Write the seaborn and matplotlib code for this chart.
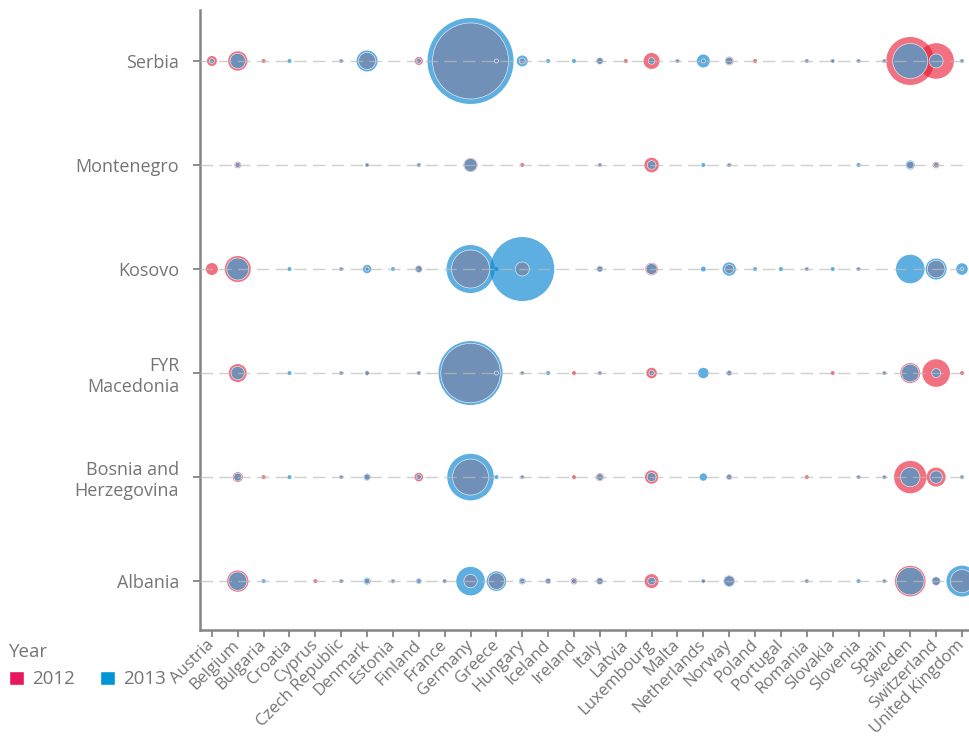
import numpy as np
import pandas as pd
import matplotlib
matplotlib.use("Agg")
import matplotlib.pyplot as plt
from matplotlib.patches import Patch
import seaborn as sns

# ---------------- data ----------------
destinations = ["Austria", "Belgium", "Bulgaria", "Croatia", "Cyprus", "Czech Republic",
                "Denmark", "Estonia", "Finland", "France", "Germany", "Greece", "Hungary",
                "Iceland", "Ireland", "Italy", "Latvia", "Luxembourg", "Malta", "Netherlands",
                "Norway", "Poland", "Portugal", "Romania", "Slovakia", "Slovenia", "Spain",
                "Sweden", "Switzerland", "United Kingdom"]
origins = ["Serbia", "Montenegro", "Kosovo", "FYR\nMacedonia", "Bosnia and\nHerzegovina", "Albania"]

#                 Aut  Bel Bul Cro Cyp Cze  Den Est Fin Fra   Ger  Gre  Hun Ice Ire Ita Lat  Lux Mal Net  Nor Pol Por Rom Slk Sln Spa   Swe   Swi  UK
serbia_2012     = [155, 583, 25,  0,  0, 25, 448,  0, 99, 25, 8953,  25,   56,  0,  0, 68, 25, 397, 25,  25, 115, 25,  0, 25, 25, 25, 25, 3571, 1964,  25]
serbia_2013     = [ 39, 368,  0, 25,  0, 25, 684,  0, 39, 25, 11464, 25,  188, 25, 25, 68,  0,  68, 25, 262,  85,  0,  0, 25, 25, 25, 25, 1899,  304,  25]
montenegro_2012 = [  0,  68,  0,  0,  0,  0,  25,  0, 25,  0,  304,   0,   25,  0,  0, 25,  0, 330,  0,   0,  25,  0,  0,  0,  0,  0,  0,   85,   68,   0]
montenegro_2013 = [  0,  39,  0,  0,  0,  0,  25,  0, 25,  0,  262,   0,    0,  0,  0, 25,  0, 115,  0,  25,  25,  0,  0,  0,  0, 25,  0,  126,   39,   0]
kosovo_2012     = [223,1048,  0,  0,  0, 25,  25,  0, 76,  0, 2238,   0,  304,  0,  0, 56,  0, 246,  0,   0, 126,  0,  0, 25,  0, 25,  0,    0,  480,  14]
kosovo_2013     = [  0, 750,  0, 25,  0, 25, 109, 25, 68,  0, 3571,  25, 6349,  0,  0, 56,  0, 188,  0,  39, 278, 25, 25, 25, 25, 25,  0, 1268,  684, 209]
macedonia_2012  = [  0, 502,  0,  0,  0, 25,  30,  0, 25,  0, 5469,  25,   25,  0, 25, 25,  0, 174,  0,   0,  39,  0,  0,  0, 25,  0, 25,  620, 1181,  25]
macedonia_2013  = [  0, 278,  0, 25,  0, 25,  30,  0, 25,  0, 6349,  25,   25, 25,  0, 25,  0,  45,  0, 174,  39,  0,  0,  0,  0,  0, 25,  480,  126,   0]
bosnia_2012     = [  0, 155, 25,  0,  0, 25,  56,  0,115,  0, 2009,   0,   25,  0, 25, 99,  0, 278,  0,   0,  45,  0,  0, 25,  0, 25, 25, 1627,  560,  25]
bosnia_2013     = [  0,  99,  0, 25,  0, 25,  76,  0, 39,  0, 3366,  25,   25,  0,  0, 68,  0, 126,  0,  85,  45,  0,  0,  0,  0, 25, 25,  583,  238,  25]
albania_2012    = [  0, 710,  0,  0, 25, 25,  45, 25, 33, 25,  278, 417,   45, 45, 68, 68,  0, 304,  0,  25, 174,  0,  0, 25,  0,  0, 25, 1451,  109, 820]
albania_2013    = [  0, 525, 25,  0,  0, 25,  76, 25, 49, 25, 1268, 595,   68, 45, 39, 68,  0,  90,  0,  25, 201,  0,  0, 25,  0, 25, 25, 1181,  109, 1490]

values_2012 = [serbia_2012, montenegro_2012, kosovo_2012, macedonia_2012, bosnia_2012, albania_2012]
values_2013 = [serbia_2013, montenegro_2013, kosovo_2013, macedonia_2013, bosnia_2013, albania_2013]
years = ["2012", "2013"]

# ---------------- styling ----------------
PINK_LEG = "#e8185c"
BLUE_LEG = "#0096d6"
PINK = "#e9122b"
BLUE = "#0684d1"
SLATE = "#7090b8"
GRAY = "#757575"

sns.set_style("white")
plt.rcParams["font.family"] = ["Open Sans", "DejaVu Sans"]

rows = []
for yi, origin in enumerate(origins):
    for xi, dest in enumerate(destinations):
        a = values_2012[yi][xi]
        b = values_2013[yi][xi]
        rows.append({"x": xi, "y": yi, "v2012": a, "v2013": b,
                     "overlap": min(a, b) if (a > 0 and b > 0) else 0})
df = pd.DataFrame(rows)

W, H, DPI = 970, 744, 100
fig = plt.figure(figsize=(W / DPI, H / DPI), dpi=DPI)
ax = fig.add_axes([200 / W, 1 - 630 / H, 770 / W, 620 / H])

vmax = 11464
smax = 0.3345 * vmax  # marker area in pt^2 for the largest value
common = dict(x="x", y="y", sizes=(0, smax), size_norm=(0, vmax), legend=False, ax=ax)

d12 = df[df.v2012 > 0]
d13 = df[df.v2013 > 0]
dov = df[df.overlap > 0]
sns.scatterplot(data=d12, size="v2012", color=PINK, alpha=0.6, linewidth=0, zorder=2, **common)
sns.scatterplot(data=d13, size="v2013", color=BLUE, alpha=0.65, linewidth=0, zorder=3, **common)
sns.scatterplot(data=dov, size="overlap", color=SLATE, alpha=1.0, linewidth=0.4,
                edgecolor=(1, 1, 1, 0.2), zorder=4, **common)

# dashed row guide lines
for yi in range(len(origins)):
    ax.axhline(yi, color="#bbbbbb", alpha=0.7, lw=1.0, dashes=(9, 4.5), zorder=5)

ax.set_xlim(-0.46, 29.31)
ax.set_ylim(5.47, -0.49)
ax.set_xticks(range(len(destinations)))
ax.set_xticklabels(destinations, rotation=45, ha="right", va="center", rotation_mode="anchor")
ax.set_yticks(range(len(origins)))
ax.set_yticklabels(origins)
ax.set_xlabel("")
ax.set_ylabel("")

for s in ["top", "right"]:
    ax.spines[s].set_visible(False)
for s in ["left", "bottom"]:
    ax.spines[s].set_color("#858585")
    ax.spines[s].set_linewidth(1.8)

ax.tick_params(axis="y", direction="out", length=5, width=1.3, color="#858585",
               labelcolor=GRAY, labelsize=13, pad=10, left=True)
ax.tick_params(axis="x", direction="out", length=5, width=1.3, color="#858585",
               labelcolor=GRAY, labelsize=12, pad=4, bottom=True)

handles = [Patch(facecolor=PINK_LEG, label=years[0]), Patch(facecolor=BLUE_LEG, label=years[1])]
leg = fig.legend(handles=handles, title="Year", loc="upper left",
                 bbox_to_anchor=(9 / W, 1 - 643 / H), ncol=2, frameon=False,
                 alignment="left", handlelength=0.8, handleheight=0.8,
                 handletextpad=0.45, columnspacing=1.3, fontsize=13.5,
                 title_fontsize=13.5, borderaxespad=0, borderpad=0, labelcolor=GRAY)
leg.get_title().set_color(GRAY)

fig.savefig("out.png", dpi=DPI)
